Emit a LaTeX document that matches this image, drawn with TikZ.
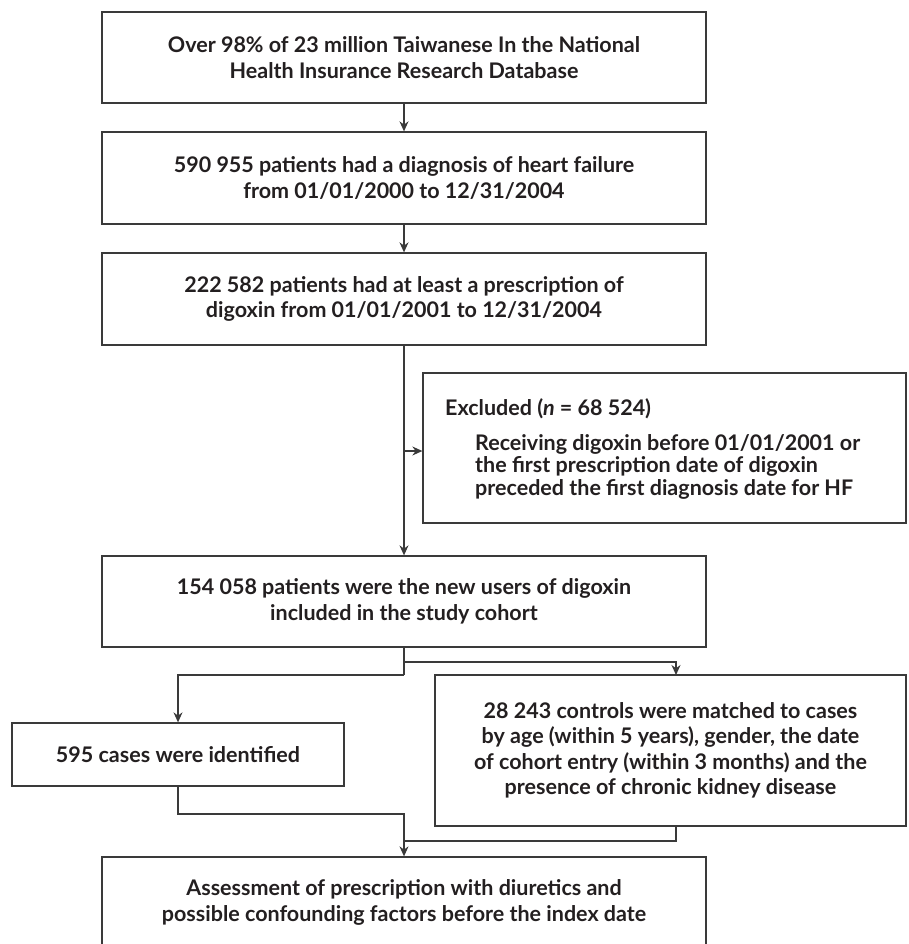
\documentclass[tikz,border=0pt]{standalone}
\usepackage{fontspec}
\setmainfont{Lato}
\usetikzlibrary{arrows.meta}
\definecolor{ink}{HTML}{231F20}
\definecolor{edge}{HTML}{3A3A3A}
\begin{document}
\begin{tikzpicture}[x=1pt,y=-1pt,
  box/.style={draw=edge, line width=1.3pt, inner sep=0pt},
  txt/.style={font=\fontsize{21.5}{25.5}\selectfont\bfseries, text=ink, align=center},
  exl/.style={font=\fontsize{21.5}{22.5}\selectfont\bfseries, text=ink, inner sep=0pt},
  conn/.style={draw=edge, line width=1.3pt},
  arr/.style={conn, -{Stealth[length=10pt,width=9pt]}}]
\clip (0,0) rectangle (908,944);
\node[box, txt, minimum width=604pt, minimum height=91pt] (b1) at (404,57.5)
  {Over 98\% of 23 million Taiwanese In the National\\Health Insurance Research Database};
\node[box, txt, minimum width=604pt, minimum height=92pt] (b2) at (404,178)
  {590 955 patients had a diagnosis of heart failure\\from 01/01/2000 to 12/31/2004};
\node[box, txt, minimum width=604pt, minimum height=92pt] (b3) at (404,299)
  {222 582 patients had at least a prescription of\\digoxin from 01/01/2001 to 12/31/2004};
\node[box, minimum width=483pt, minimum height=150pt] (ex) at (664.5,448) {};
\node[exl, anchor=base west] (ext) at (445,415) {Excluded (\textit{n} = 68 524)};
\node[exl, anchor=base west] (ex1) at (475,450) {Receiving digoxin before 01/01/2001 or};
\node[exl, anchor=base west] (ex2) at (475,472.5) {the first prescription date of digoxin};
\node[exl, anchor=base west] (ex3) at (475,495) {preceded the first diagnosis date for HF};
\node[box, txt, minimum width=604pt, minimum height=91pt] (b4) at (404,601.5)
  {154 058 patients were the new users of digoxin\\included in the study cohort};
\node[box, txt, minimum width=332pt, minimum height=63pt] (lb) at (178,754.5)
  {595 cases were identified};
\node[box, txt, minimum width=471pt, minimum height=151pt] (rb) at (670.5,750.5)
  {28 243 controls were matched to cases\\by age (within 5 years), gender, the date\\of cohort entry (within 3 months) and the\\presence of chronic kidney disease};
\node[box, txt, minimum width=604pt, minimum height=91pt] (b6) at (404,902.5)
  {Assessment of prescription with diuretics and\\possible confounding factors before the index date};
\draw[arr] (b1.south) -- (b2.north);
\draw[arr] (b2.south) -- (b3.north);
\draw[arr] (b3.south) -- (b4.north);
\coordinate (e1) at (404,451);
\draw[arr] (e1) -- (ex.west |- e1);
\coordinate (j1) at (404,675);
\coordinate (j2) at (404,662);
\coordinate (rt) at (676,675);
\coordinate (rbt) at (676,826);
\coordinate (j3) at (404,814);
\coordinate (j4) at (404,841);
\draw[conn] (b4.south) -- (j1);
\draw[arr] (j1) -| (lb.north);
\draw[arr] (j2) -| (rt);
\draw[arr] (lb.south) |- (j3) -- (b6.north);
\draw[conn] (rbt) |- (j4);
\end{tikzpicture}
\end{document}
